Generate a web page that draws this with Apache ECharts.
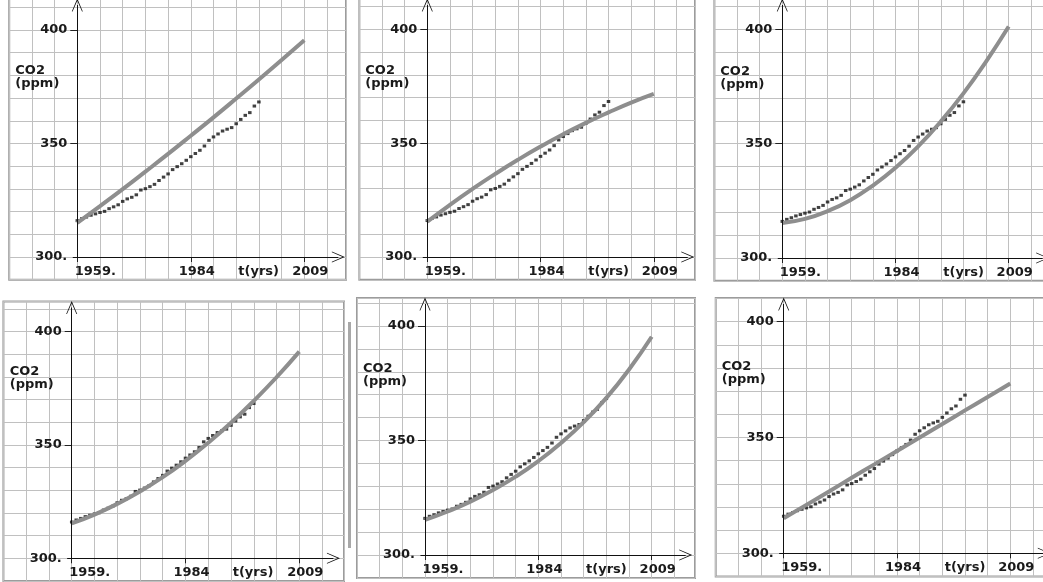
<!DOCTYPE html>
<html>
<head>
<meta charset="utf-8">
<script src="https://cdn.jsdelivr.net/npm/echarts@6/dist/echarts.min.js"></script>
<style>
html,body{margin:0;padding:0;background:#fff;}
#c{width:1043px;height:582px;}
</style>
</head>
<body>
<div id="c"></div>
<script>
// ---- DATA ----
const years = [1959,1960,1961,1962,1963,1964,1965,1966,1967,1968,1969,1970,1971,1972,1973,1974,1975,1976,1977,1978,1979,1980,1981,1982,1983,1984,1985,1986,1987,1988,1989,1990,1991,1992,1993,1994,1995,1996,1997,1998,1999];
const co2 = [316.0,316.9,317.6,318.4,319.0,319.6,320.1,321.3,322.1,323.0,324.5,325.6,326.3,327.4,329.5,330.1,331.0,332.0,333.7,335.2,336.6,338.5,339.8,341.1,342.6,344.2,345.6,347.0,348.9,351.4,352.9,354.2,355.5,356.3,357.0,358.7,360.6,362.4,363.6,366.5,368.3];
const curveYears = [1959,1964,1969,1974,1979,1984,1989,1994,1999,2004,2009];
const model1 = [315.0,322.4,329.9,337.6,345.4,353.4,361.5,369.8,378.2,386.8,395.5];
const model2 = [315.5,322.9,329.9,336.5,342.7,348.5,353.9,358.9,363.5,367.8,371.6];
const model3 = [315.3,317.1,320.5,325.3,331.7,339.5,348.8,359.7,372.0,385.9,401.2];
const model4 = [315.4,319.3,324.0,329.5,335.8,343.0,351.0,359.8,369.5,379.9,391.2];
const model5 = [315.3,319.0,323.3,328.4,334.2,341.0,348.9,358.0,368.6,381.0,395.3];
const model6 = [315.1,320.9,326.7,332.6,338.4,344.2,350.0,355.8,361.7,367.5,373.3];
const xTickYears = [1959,1984,2009];
const xTickLabels = ['1959.','1984','2009'];
const yTickValues = [300,350,400];
const yTickLabels = ['300.','350','400'];
const xTitle = 't(yrs)';
const yTitle = 'CO2\n(ppm)';
const ORIGIN_YEAR = 1959;   // where the vertical axis crosses
const BASE_PPM = 300;       // where the horizontal axis crosses
const X_ARROW_YEAR = 2016.5;
const models = [model1, model2, model3, model4, model5, model6];

// ---- LAYOUT (pixels) ----
const panels = [
  {ox:77.3,  oy:257,   sx:4.54,  sy:2.27,  top:-1,    right:346},
  {ox:427.3, oy:257,   sx:4.53,  sy:2.277, top:-1,    right:695},
  {ox:782.3, oy:258,   sx:4.528, sy:2.287, top:-1,    right:1060},
  {ox:71.7,  oy:558.3, sx:4.552, sy:2.266, top:301.5, right:344},
  {ox:425,   oy:555,   sx:4.534, sy:2.29,  top:298,   right:695},
  {ox:783.7, oy:553.3, sx:4.532, sy:2.316, top:298,   right:1060}
];

const FONT = 'DejaVu Sans';
const TXT = '#1a1a1a';
const chevron = 'path://M0,0 L10,14 L8.6,14 L0,2.4 L-8.6,14 L-10,14 Z';

const grids = [], xAxes = [], yAxes = [], series = [], titles = [];
const xMin = -15, yMin = -10;

panels.forEach((p, i) => {
  const left = p.ox + xMin * p.sx;
  const bottom = p.oy - yMin * p.sy;
  const xMax = (p.right - p.ox) / p.sx;
  const yMax = (p.oy - p.top) / p.sy;
  grids.push({
    left: left, top: p.top, width: p.right - left, height: bottom - p.top,
    show: true, borderColor: '#9c9c9c', borderWidth: 2, backgroundColor: '#fff',
    containLabel: false, outerBoundsMode: 'none'
  });
  // axis A: background grid (every 5 years / 10 ppm)
  xAxes.push({
    type: 'value', gridIndex: i, position: 'top', min: xMin, max: xMax, interval: 5,
    splitLine: {show: true, lineStyle: {color: '#c0c0c0', width: 1}},
    axisLine: {show: false, onZero: false}, axisTick: {show: false}, axisLabel: {show: false}
  });
  // axis B: ticks and labels, shifted onto the 300 ppm line
  xAxes.push({
    type: 'value', gridIndex: i, position: 'bottom', min: xMin, max: xMax,
    offset: yMin * p.sy,
    splitLine: {show: false},
    axisLine: {show: false, onZero: false},
    axisTick: {show: true, customValues: xTickYears.map(y => y - ORIGIN_YEAR), length: 5, lineStyle: {color: '#222', width: 1}},
    axisLabel: {
      show: true, customValues: xTickYears.map(y => y - ORIGIN_YEAR), margin: 8,
      formatter: v => {
        const k = xTickYears.indexOf(Math.round(v) + ORIGIN_YEAR);
        return k === 0 ? '{a|' + xTickLabels[k] + '}' : '{b|' + xTickLabels[k] + '}';
      },
      rich: {
        a: {fontFamily: FONT, fontWeight: 'bold', fontSize: 13, color: TXT, padding: [0, 0, 0, 36]},
        b: {fontFamily: FONT, fontWeight: 'bold', fontSize: 13, color: TXT, padding: [0, 0, 0, 12]}
      }
    }
  });
  yAxes.push({
    type: 'value', gridIndex: i, position: 'right', min: yMin, max: yMax, interval: 10,
    splitLine: {show: true, lineStyle: {color: '#c0c0c0', width: 1}},
    axisLine: {show: false, onZero: false}, axisTick: {show: false}, axisLabel: {show: false}
  });
  yAxes.push({
    type: 'value', gridIndex: i, position: 'left', min: yMin, max: yMax,
    offset: xMin * p.sx,
    splitLine: {show: false},
    axisLine: {show: false, onZero: false},
    axisTick: {show: true, customValues: yTickValues.slice(1).map(v => v - BASE_PPM), length: 7, lineStyle: {color: '#222', width: 1}},
    axisLabel: {
      show: true, customValues: yTickValues.map(v => v - BASE_PPM), margin: 10,
      fontFamily: FONT, fontWeight: 'bold', fontSize: 13, color: TXT, align: 'right',
      formatter: v => yTickLabels[yTickValues.indexOf(Math.round(v) + BASE_PPM)]
    }
  });
  series.push({
    type: 'scatter', xAxisIndex: 2 * i, yAxisIndex: 2 * i, z: 2,
    symbol: 'rect', symbolSize: [3.5, 3], itemStyle: {color: '#111'},
    data: years.map((y, k) => [y - ORIGIN_YEAR, co2[k] - BASE_PPM]),
    silent: true
  });
  series.push({
    type: 'line', xAxisIndex: 2 * i, yAxisIndex: 2 * i, z: 3,
    smooth: true, showSymbol: false, symbol: 'none',
    lineStyle: {color: '#8e8e8e', width: 4},
    data: curveYears.map((y, k) => [y - ORIGIN_YEAR, models[i][k] - BASE_PPM]),
    silent: true,
    markLine: {
      silent: true, symbol: ['none', chevron], symbolSize: [11, 13],
      lineStyle: {color: '#111', width: 1, type: 'solid'},
      label: {show: false}, emphasis: {disabled: true},
      data: [
        [{coord: [0, 0]}, {coord: [0, yMax - 6 / p.sy]}],
        [{coord: [-1, 0]}, {coord: [X_ARROW_YEAR - ORIGIN_YEAR, 0]}]
      ]
    }
  });
  const ts = {fontFamily: FONT, fontWeight: 'bold', fontSize: 13, lineHeight: 13, color: TXT};
  titles.push({text: yTitle, left: p.ox - 62, top: p.oy - 193, padding: 0, textStyle: ts});
  titles.push({text: xTitle, left: p.ox + 161, top: p.oy + 8, padding: 0, textStyle: ts});
});

const chart = echarts.init(document.getElementById('c'), null, {renderer: 'canvas'});
chart.setOption({
  animation: false,
  backgroundColor: '#fff',
  title: titles,
  grid: grids,
  xAxis: xAxes,
  yAxis: yAxes,
  series: series,
  graphic: [
    {type: 'rect', shape: {x: 348, y: 322, width: 3, height: 226}, style: {fill: '#a8a8a8'}, z: 10}
  ]
});
</script>
</body>
</html>
